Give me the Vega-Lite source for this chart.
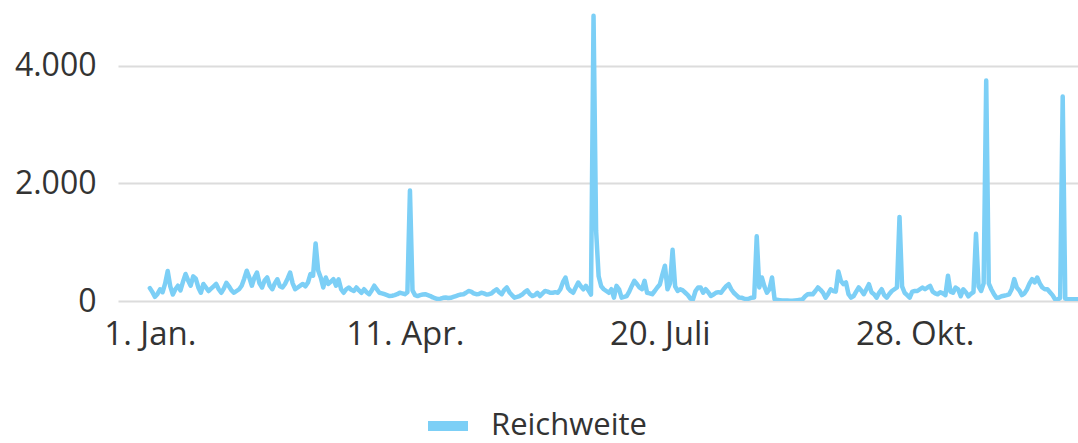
{
"$schema": "https://vega.github.io/schema/vega-lite/v6.json",
"width": 960, "height": 301,
"autosize": {"type": "none"},
"padding": {"left": 118, "top": 0, "right": 0, "bottom": 142},
"background": "white",
"config": {"view": {"stroke": null}, "font": "Open Sans"},
"data": {"values": [
{"d":"2023-01-01","v":220},{"d":"2023-01-02","v":150},{"d":"2023-01-03","v":70},{"d":"2023-01-04","v":120},{"d":"2023-01-05","v":200},{"d":"2023-01-06","v":150},{"d":"2023-01-07","v":300},{"d":"2023-01-08","v":510},{"d":"2023-01-09","v":250},{"d":"2023-01-10","v":110},{"d":"2023-01-11","v":200},{"d":"2023-01-12","v":260},{"d":"2023-01-13","v":180},{"d":"2023-01-14","v":330},{"d":"2023-01-15","v":460},{"d":"2023-01-16","v":350},{"d":"2023-01-17","v":260},{"d":"2023-01-18","v":420},{"d":"2023-01-19","v":380},{"d":"2023-01-20","v":230},{"d":"2023-01-21","v":140},{"d":"2023-01-22","v":290},{"d":"2023-01-23","v":230},{"d":"2023-01-24","v":170},{"d":"2023-01-25","v":210},{"d":"2023-01-26","v":250},{"d":"2023-01-27","v":290},{"d":"2023-01-28","v":200},{"d":"2023-01-29","v":140},{"d":"2023-01-30","v":210},{"d":"2023-01-31","v":310},
{"d":"2023-02-01","v":250},{"d":"2023-02-02","v":180},{"d":"2023-02-03","v":140},{"d":"2023-02-04","v":170},{"d":"2023-02-05","v":200},{"d":"2023-02-06","v":260},{"d":"2023-02-07","v":380},{"d":"2023-02-08","v":515},{"d":"2023-02-09","v":400},{"d":"2023-02-10","v":260},{"d":"2023-02-11","v":400},{"d":"2023-02-12","v":485},{"d":"2023-02-13","v":300},{"d":"2023-02-14","v":230},{"d":"2023-02-15","v":350},{"d":"2023-02-16","v":400},{"d":"2023-02-17","v":260},{"d":"2023-02-18","v":200},{"d":"2023-02-19","v":300},{"d":"2023-02-20","v":370},{"d":"2023-02-21","v":250},{"d":"2023-02-22","v":230},{"d":"2023-02-23","v":290},{"d":"2023-02-24","v":380},{"d":"2023-02-25","v":485},{"d":"2023-02-26","v":300},{"d":"2023-02-27","v":200},{"d":"2023-02-28","v":230},
{"d":"2023-03-01","v":260},{"d":"2023-03-02","v":290},{"d":"2023-03-03","v":250},{"d":"2023-03-04","v":315},{"d":"2023-03-05","v":460},{"d":"2023-03-06","v":430},{"d":"2023-03-07","v":980},{"d":"2023-03-08","v":520},{"d":"2023-03-09","v":400},{"d":"2023-03-10","v":230},{"d":"2023-03-11","v":400},{"d":"2023-03-12","v":290},{"d":"2023-03-13","v":330},{"d":"2023-03-14","v":370},{"d":"2023-03-15","v":260},{"d":"2023-03-16","v":370},{"d":"2023-03-17","v":200},{"d":"2023-03-18","v":140},{"d":"2023-03-19","v":200},{"d":"2023-03-20","v":230},{"d":"2023-03-21","v":190},{"d":"2023-03-22","v":170},{"d":"2023-03-23","v":230},{"d":"2023-03-24","v":180},{"d":"2023-03-25","v":140},{"d":"2023-03-26","v":200},{"d":"2023-03-27","v":150},{"d":"2023-03-28","v":115},{"d":"2023-03-29","v":180},{"d":"2023-03-30","v":260},{"d":"2023-03-31","v":200},
{"d":"2023-04-01","v":140},{"d":"2023-04-02","v":130},{"d":"2023-04-03","v":115},{"d":"2023-04-04","v":100},{"d":"2023-04-05","v":85},{"d":"2023-04-06","v":90},{"d":"2023-04-07","v":100},{"d":"2023-04-08","v":115},{"d":"2023-04-09","v":140},{"d":"2023-04-10","v":130},{"d":"2023-04-11","v":115},{"d":"2023-04-12","v":150},{"d":"2023-04-13","v":1880},{"d":"2023-04-14","v":180},{"d":"2023-04-15","v":100},{"d":"2023-04-16","v":85},{"d":"2023-04-17","v":100},{"d":"2023-04-18","v":110},{"d":"2023-04-19","v":115},{"d":"2023-04-20","v":100},{"d":"2023-04-21","v":85},{"d":"2023-04-22","v":60},{"d":"2023-04-23","v":45},{"d":"2023-04-24","v":30},{"d":"2023-04-25","v":40},{"d":"2023-04-26","v":55},{"d":"2023-04-27","v":60},{"d":"2023-04-28","v":50},{"d":"2023-04-29","v":55},{"d":"2023-04-30","v":70},
{"d":"2023-05-01","v":85},{"d":"2023-05-02","v":100},{"d":"2023-05-03","v":110},{"d":"2023-05-04","v":115},{"d":"2023-05-05","v":140},{"d":"2023-05-06","v":170},{"d":"2023-05-07","v":160},{"d":"2023-05-08","v":130},{"d":"2023-05-09","v":115},{"d":"2023-05-10","v":120},{"d":"2023-05-11","v":140},{"d":"2023-05-12","v":130},{"d":"2023-05-13","v":110},{"d":"2023-05-14","v":115},{"d":"2023-05-15","v":130},{"d":"2023-05-16","v":170},{"d":"2023-05-17","v":200},{"d":"2023-05-18","v":150},{"d":"2023-05-19","v":115},{"d":"2023-05-20","v":190},{"d":"2023-05-21","v":230},{"d":"2023-05-22","v":150},{"d":"2023-05-23","v":100},{"d":"2023-05-24","v":57},{"d":"2023-05-25","v":70},{"d":"2023-05-26","v":85},{"d":"2023-05-27","v":110},{"d":"2023-05-28","v":150},{"d":"2023-05-29","v":180},{"d":"2023-05-30","v":120},{"d":"2023-05-31","v":85},
{"d":"2023-06-01","v":100},{"d":"2023-06-02","v":140},{"d":"2023-06-03","v":85},{"d":"2023-06-04","v":130},{"d":"2023-06-05","v":170},{"d":"2023-06-06","v":160},{"d":"2023-06-07","v":140},{"d":"2023-06-08","v":140},{"d":"2023-06-09","v":150},{"d":"2023-06-10","v":140},{"d":"2023-06-11","v":200},{"d":"2023-06-12","v":320},{"d":"2023-06-13","v":400},{"d":"2023-06-14","v":220},{"d":"2023-06-15","v":170},{"d":"2023-06-16","v":140},{"d":"2023-06-17","v":230},{"d":"2023-06-18","v":315},{"d":"2023-06-19","v":250},{"d":"2023-06-20","v":200},{"d":"2023-06-21","v":257},{"d":"2023-06-22","v":180},{"d":"2023-06-23","v":110},{"d":"2023-06-24","v":4850},{"d":"2023-06-25","v":1200},{"d":"2023-06-26","v":420},{"d":"2023-06-27","v":250},{"d":"2023-06-28","v":200},{"d":"2023-06-29","v":170},{"d":"2023-06-30","v":140},
{"d":"2023-07-01","v":200},{"d":"2023-07-02","v":57},{"d":"2023-07-03","v":257},{"d":"2023-07-04","v":200},{"d":"2023-07-05","v":57},{"d":"2023-07-06","v":70},{"d":"2023-07-07","v":85},{"d":"2023-07-08","v":160},{"d":"2023-07-09","v":257},{"d":"2023-07-10","v":343},{"d":"2023-07-11","v":290},{"d":"2023-07-12","v":230},{"d":"2023-07-13","v":200},{"d":"2023-07-14","v":343},{"d":"2023-07-15","v":140},{"d":"2023-07-16","v":130},{"d":"2023-07-17","v":115},{"d":"2023-07-18","v":170},{"d":"2023-07-19","v":230},{"d":"2023-07-20","v":280},{"d":"2023-07-21","v":450},{"d":"2023-07-22","v":600},{"d":"2023-07-23","v":200},{"d":"2023-07-24","v":300},{"d":"2023-07-25","v":870},{"d":"2023-07-26","v":250},{"d":"2023-07-27","v":170},{"d":"2023-07-28","v":200},{"d":"2023-07-29","v":180},{"d":"2023-07-30","v":140},{"d":"2023-07-31","v":100},
{"d":"2023-08-01","v":40},{"d":"2023-08-02","v":30},{"d":"2023-08-03","v":170},{"d":"2023-08-04","v":230},{"d":"2023-08-05","v":230},{"d":"2023-08-06","v":140},{"d":"2023-08-07","v":200},{"d":"2023-08-08","v":150},{"d":"2023-08-09","v":85},{"d":"2023-08-10","v":110},{"d":"2023-08-11","v":140},{"d":"2023-08-12","v":150},{"d":"2023-08-13","v":140},{"d":"2023-08-14","v":200},{"d":"2023-08-15","v":250},{"d":"2023-08-16","v":286},{"d":"2023-08-17","v":200},{"d":"2023-08-18","v":140},{"d":"2023-08-19","v":100},{"d":"2023-08-20","v":60},{"d":"2023-08-21","v":57},{"d":"2023-08-22","v":40},{"d":"2023-08-23","v":30},{"d":"2023-08-24","v":40},{"d":"2023-08-25","v":57},{"d":"2023-08-26","v":60},{"d":"2023-08-27","v":1100},{"d":"2023-08-28","v":230},{"d":"2023-08-29","v":400},{"d":"2023-08-30","v":250},{"d":"2023-08-31","v":140},
{"d":"2023-09-01","v":200},{"d":"2023-09-02","v":400},{"d":"2023-09-03","v":30},{"d":"2023-09-04","v":20},{"d":"2023-09-05","v":15},{"d":"2023-09-06","v":10},{"d":"2023-09-07","v":10},{"d":"2023-09-08","v":10},{"d":"2023-09-09","v":5},{"d":"2023-09-10","v":5},{"d":"2023-09-11","v":10},{"d":"2023-09-12","v":15},{"d":"2023-09-13","v":20},{"d":"2023-09-14","v":30},{"d":"2023-09-15","v":80},{"d":"2023-09-16","v":115},{"d":"2023-09-17","v":120},{"d":"2023-09-18","v":115},{"d":"2023-09-19","v":170},{"d":"2023-09-20","v":230},{"d":"2023-09-21","v":190},{"d":"2023-09-22","v":140},{"d":"2023-09-23","v":57},{"d":"2023-09-24","v":120},{"d":"2023-09-25","v":200},{"d":"2023-09-26","v":170},{"d":"2023-09-27","v":160},{"d":"2023-09-28","v":503},{"d":"2023-09-29","v":343},{"d":"2023-09-30","v":286},
{"d":"2023-10-01","v":315},{"d":"2023-10-02","v":115},{"d":"2023-10-03","v":57},{"d":"2023-10-04","v":85},{"d":"2023-10-05","v":160},{"d":"2023-10-06","v":230},{"d":"2023-10-07","v":180},{"d":"2023-10-08","v":115},{"d":"2023-10-09","v":200},{"d":"2023-10-10","v":286},{"d":"2023-10-11","v":150},{"d":"2023-10-12","v":115},{"d":"2023-10-13","v":57},{"d":"2023-10-14","v":140},{"d":"2023-10-15","v":200},{"d":"2023-10-16","v":100},{"d":"2023-10-17","v":57},{"d":"2023-10-18","v":120},{"d":"2023-10-19","v":170},{"d":"2023-10-20","v":200},{"d":"2023-10-21","v":230},{"d":"2023-10-22","v":1430},{"d":"2023-10-23","v":250},{"d":"2023-10-24","v":140},{"d":"2023-10-25","v":100},{"d":"2023-10-26","v":57},{"d":"2023-10-27","v":160},{"d":"2023-10-28","v":170},{"d":"2023-10-29","v":170},{"d":"2023-10-30","v":200},{"d":"2023-10-31","v":230},
{"d":"2023-11-01","v":200},{"d":"2023-11-02","v":230},{"d":"2023-11-03","v":257},{"d":"2023-11-04","v":160},{"d":"2023-11-05","v":130},{"d":"2023-11-06","v":114},{"d":"2023-11-07","v":150},{"d":"2023-11-08","v":130},{"d":"2023-11-09","v":100},{"d":"2023-11-10","v":430},{"d":"2023-11-11","v":160},{"d":"2023-11-12","v":140},{"d":"2023-11-13","v":230},{"d":"2023-11-14","v":200},{"d":"2023-11-15","v":80},{"d":"2023-11-16","v":200},{"d":"2023-11-17","v":150},{"d":"2023-11-18","v":80},{"d":"2023-11-19","v":120},{"d":"2023-11-20","v":150},{"d":"2023-11-21","v":1144},{"d":"2023-11-22","v":250},{"d":"2023-11-23","v":170},{"d":"2023-11-24","v":300},{"d":"2023-11-25","v":3750},{"d":"2023-11-26","v":300},{"d":"2023-11-27","v":200},{"d":"2023-11-28","v":120},{"d":"2023-11-29","v":57},{"d":"2023-11-30","v":60},
{"d":"2023-12-01","v":80},{"d":"2023-12-02","v":90},{"d":"2023-12-03","v":100},{"d":"2023-12-04","v":114},{"d":"2023-12-05","v":200},{"d":"2023-12-06","v":372},{"d":"2023-12-07","v":230},{"d":"2023-12-08","v":180},{"d":"2023-12-09","v":100},{"d":"2023-12-10","v":130},{"d":"2023-12-11","v":200},{"d":"2023-12-12","v":300},{"d":"2023-12-13","v":372},{"d":"2023-12-14","v":315},{"d":"2023-12-15","v":400},{"d":"2023-12-16","v":300},{"d":"2023-12-17","v":230},{"d":"2023-12-18","v":200},{"d":"2023-12-19","v":200},{"d":"2023-12-20","v":150},{"d":"2023-12-21","v":100},{"d":"2023-12-22","v":30},{"d":"2023-12-23","v":25},{"d":"2023-12-24","v":50},{"d":"2023-12-25","v":3480},{"d":"2023-12-26","v":40},{"d":"2023-12-27","v":30},{"d":"2023-12-28","v":30},{"d":"2023-12-29","v":30},{"d":"2023-12-30","v":30},{"d":"2023-12-31","v":30}
]},
"mark": {"type": "line", "strokeWidth": 4.5, "strokeJoin": "round", "strokeCap": "round", "clip": true},
"encoding": {
  "x": {"field": "d", "type": "temporal",
    "scale": {"type": "utc", "domain": [{"year": 2022, "month": 12, "date": 19, "hours": 12, "utc": true}, {"year": 2023, "month": 12, "date": 31, "utc": true}]},
    "axis": {"title": null, "grid": false, "domain": false, "ticks": false, "tickSize": 0,
      "values": [{"year": 2023, "month": 1, "date": 1, "utc": true}, {"year": 2023, "month": 4, "date": 11, "utc": true}, {"year": 2023, "month": 7, "date": 20, "utc": true}, {"year": 2023, "month": 10, "date": 28, "utc": true}],
      "labelExpr": "utcdate(datum.value) + '. ' + ['Jan.','Feb.','März','Apr.','Mai','Juni','Juli','Aug.','Sep.','Okt.','Nov.','Dez.'][utcmonth(datum.value)]",
      "labelFontSize": 33, "labelColor": "#333333", "labelPadding": 17, "labelFlush": false, "labelOverlap": false}},
  "y": {"field": "v", "type": "quantitative",
    "scale": {"domain": [0, 5120], "nice": false},
    "axis": {"title": null, "values": [0, 2000, 4000], "format": ",d", "labelExpr": "replace(datum.label, ',', '.')",
      "domain": false, "ticks": false, "tickSize": 0, "labelPadding": 22,
      "gridColor": "#dcdcdc", "gridWidth": 2, "labelFontSize": 32, "labelColor": "#333333"}},
  "color": {"datum": "Reichweite", "type": "nominal",
    "scale": {"range": ["#7ccff6"]},
    "legend": {"title": null, "orient": "none", "legendX": 305, "legendY": 401,
      "symbolType": "stroke", "symbolStrokeWidth": 10, "symbolSize": 1600,
      "labelFontSize": 31, "labelLimit": 500, "labelColor": "#333333", "labelOffset": 18}}
}
}
